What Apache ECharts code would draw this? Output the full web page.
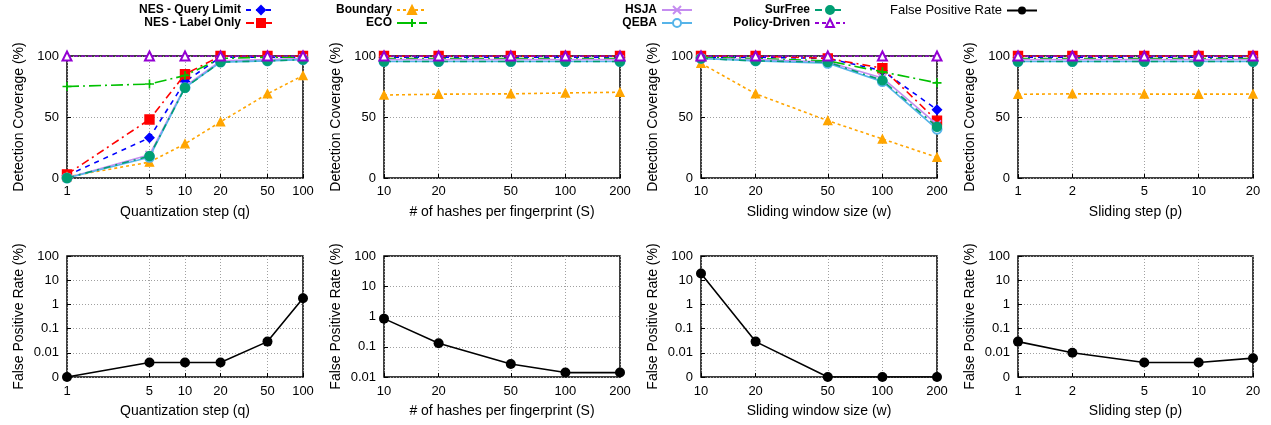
<!DOCTYPE html>
<html>
<head>
<meta charset="utf-8">
<script src="https://cdn.jsdelivr.net/npm/echarts@6/dist/echarts.min.js"></script>
<style>
  html, body { margin: 0; padding: 0; background: #fff; }
  #chart { width: 1271px; height: 425px; }
</style>
</head>
<body>
<div id="chart"></div>
<script>
// x values of the four parameter sweeps
const qSteps = [1, 5, 10, 20, 50, 100];
const hashCounts = [10, 20, 50, 100, 200];
const windowSizes = [10, 20, 50, 100, 200];
const slideSteps = [1, 2, 5, 10, 20];

// detection coverage (%) - quantization step
const qNesQuery = [2, 33, 79, 99, 99, 99];
const qNesLabel = [3, 48, 85, 100, 100, 100];
const qBoundary = [1, 13, 28, 46, 69, 84];
const qEco = [75, 77, 84, 98, 99, 99];
const qHsja = [0, 19, 75, 96, 97, 98];
const qQeba = [0, 17, 74, 95, 96, 97];
const qSurfree = [0, 18, 74, 95, 96, 97];
const qPolicy = [100, 100, 100, 100, 100, 100];

// detection coverage (%) - hashes per fingerprint
const sNesQuery = [99, 99, 99, 99, 99];
const sNesLabel = [100, 100, 100, 100, 100];
const sBoundary = [68, 68.7, 69, 69.7, 70.3];
const sEco = [98, 98, 98, 98, 98];
const sHsja = [97, 97, 97, 97, 97];
const sQeba = [95.5, 95.5, 95.5, 95.5, 95.5];
const sSurfree = [95.5, 95.5, 95.5, 95.5, 95.5];
const sPolicy = [100, 100, 100, 100, 100];

// detection coverage (%) - sliding window size
const wNesQuery = [99, 99, 98, 88, 56];
const wNesLabel = [100, 100, 98, 90, 47];
const wBoundary = [94, 69, 47, 32, 17];
const wEco = [99, 98, 96, 87, 78];
const wHsja = [98, 97, 95, 82, 44];
const wQeba = [98, 96, 94, 79, 40];
const wSurfree = [98, 96, 95, 80, 42];
const wPolicy = [100, 100, 100, 100, 100];

// detection coverage (%) - sliding step
const pNesQuery = [99, 99, 99, 99, 99];
const pNesLabel = [100, 100, 100, 100, 100];
const pBoundary = [68.6, 69, 68.8, 68.7, 68.8];
const pEco = [98, 98, 98, 98, 98];
const pHsja = [97, 97, 97, 97, 97];
const pQeba = [95.5, 95.5, 95.5, 95.5, 95.5];
const pSurfree = [95.5, 95.5, 95.5, 95.5, 95.5];
const pPolicy = [100, 100, 100, 100, 100];

// false positive rate (%), 0 is drawn on the axis floor
const qFpr = [0, 0.004, 0.004, 0.004, 0.029, 1.8];
const sFpr = [0.85, 0.13, 0.027, 0.014, 0.014];
const wFpr = [19, 0.029, 0, 0, 0];
const pFpr = [0.029, 0.01, 0.004, 0.004, 0.006];

const coverageTicks = [0, 50, 100];
const fprTicks = [0.001, 0.01, 0.1, 1, 10, 100];
const fprTicksShort = [0.01, 0.1, 1, 10, 100];

const FONT = 'Liberation Sans';
const xPath = 'path://M0,0L10,10M10,0L0,10';
const plusPath = 'path://M5,0L5,10M0,5L10,5';

const methods = [
  { name: 'NES - Query Limit', color: '#0000ff', symbol: 'diamond', size: 9, dash: [5, 5], lr: 994, lt: 4 },
  { name: 'NES - Label Only', color: '#ff0000', symbol: 'rect', size: 9, dash: [8, 4, 2, 4], lr: 994, lt: 17 },
  { name: 'Boundary', color: '#ffa500', symbol: 'triangle', size: 8, dash: [3, 3], lr: 843, lt: 4 },
  { name: 'ECO', color: '#00c000', symbol: plusPath, size: 9, dash: [12, 4, 2, 4], stroke: true, lr: 843, lt: 17 },
  { name: 'HSJA', color: '#c58cf0', symbol: xPath, size: 8, dash: 'solid', stroke: true, lr: 578, lt: 4 },
  { name: 'QEBA', color: '#56b4e9', symbol: 'emptyCircle', size: 9, dash: 'solid', lr: 578, lt: 17 },
  { name: 'SurFree', color: '#009e73', symbol: 'circle', size: 9, dash: [7, 5, 2, 5], lr: 425, lt: 4 },
  { name: 'Policy-Driven', color: '#9400d3', symbol: 'emptyTriangle', size: 9, dash: [4, 3], lr: 425, lt: 17 }
];

const topPanels = [
  { x: qSteps, ys: [qNesQuery, qNesLabel, qBoundary, qEco, qHsja, qQeba, qSurfree, qPolicy], xName: 'Quantization step (q)' },
  { x: hashCounts, ys: [sNesQuery, sNesLabel, sBoundary, sEco, sHsja, sQeba, sSurfree, sPolicy], xName: '# of hashes per fingerprint (S)' },
  { x: windowSizes, ys: [wNesQuery, wNesLabel, wBoundary, wEco, wHsja, wQeba, wSurfree, wPolicy], xName: 'Sliding window size (w)' },
  { x: slideSteps, ys: [pNesQuery, pNesLabel, pBoundary, pEco, pHsja, pQeba, pSurfree, pPolicy], xName: 'Sliding step (p)' }
];
const bottomPanels = [
  { x: qSteps, y: qFpr, ticks: fprTicks, xName: 'Quantization step (q)' },
  { x: hashCounts, y: sFpr, ticks: fprTicksShort, xName: '# of hashes per fingerprint (S)' },
  { x: windowSizes, y: wFpr, ticks: fprTicks, xName: 'Sliding window size (w)' },
  { x: slideSteps, y: pFpr, ticks: fprTicks, xName: 'Sliding step (p)' }
];

const lefts = [67, 384, 701, 1018];
const widths = [236, 236, 236, 235];

const grid = [], xAxis = [], yAxis = [], series = [], legend = [];
const gridLine = { show: true, lineStyle: { color: '#a0a0a0', type: [1, 2], width: 1 } };
const labelStyle = { fontFamily: FONT, fontSize: 13, color: '#000' };
const nameStyle = { fontFamily: FONT, fontSize: 14, color: '#000' };

function addX(idx, vals, name, margin, gap) {
  xAxis.push({
    type: 'log', logBase: 10, gridIndex: idx,
    min: vals[0], max: vals[vals.length - 1],
    name: name, nameLocation: 'middle', nameGap: gap, nameTextStyle: nameStyle,
    axisLine: { show: false },
    axisTick: { show: true, inside: true, length: 4, customValues: vals, lineStyle: { color: '#000' } },
    axisLabel: Object.assign({ customValues: vals, margin: margin, formatter: v => String(v) }, labelStyle),
    splitLine: gridLine
  });
}

topPanels.forEach((p, i) => {
  grid.push({ left: lefts[i], width: widths[i], top: 56, height: 122, show: true, borderColor: '#000', borderWidth: 1.5 });
  addX(i, p.x, p.xName, 7, 27);
  yAxis.push({
    type: 'value', gridIndex: i, min: 0, max: 100,
    name: 'Detection Coverage (%)', nameLocation: 'middle', nameGap: 41, nameTextStyle: nameStyle,
    axisLine: { show: false },
    axisTick: { show: true, inside: true, length: 4, customValues: coverageTicks, lineStyle: { color: '#000' } },
    axisLabel: Object.assign({ customValues: coverageTicks, margin: 8 }, labelStyle),
    splitLine: gridLine
  });
  methods.forEach((m, k) => {
    series.push({
      name: m.name, type: 'line', xAxisIndex: i, yAxisIndex: i,
      data: p.x.map((xv, j) => [xv, p.ys[k][j]]),
      symbol: m.symbol, symbolSize: m.size, showAllSymbol: true,
      lineStyle: { color: m.color, width: 1.6, type: m.dash },
      itemStyle: m.stroke
        ? { color: m.color, borderColor: m.color, borderWidth: 1.6 }
        : { color: m.color, borderColor: m.color, borderWidth: 1.4 },
      emphasis: { disabled: true }, animation: false, z: 2 + k
    });
  });
});

bottomPanels.forEach((p, i) => {
  const gi = i + 4;
  const floor = p.ticks[0];
  grid.push({ left: lefts[i], width: widths[i], top: 256, height: 121, show: true, borderColor: '#000', borderWidth: 1.5 });
  addX(gi, p.x, p.xName, 8, 27);
  yAxis.push({
    type: 'log', logBase: 10, gridIndex: gi, min: floor, max: 100,
    name: 'False Positive Rate (%)', nameLocation: 'middle', nameGap: 41, nameTextStyle: nameStyle,
    axisLine: { show: false },
    axisTick: { show: true, inside: true, length: 4, customValues: p.ticks, lineStyle: { color: '#000' } },
    axisLabel: Object.assign({ customValues: p.ticks, margin: 8, formatter: v => (v <= 0.001 ? '0' : String(v)) }, labelStyle),
    splitLine: gridLine
  });
  series.push({
    name: 'False Positive Rate', type: 'line', xAxisIndex: gi, yAxisIndex: gi,
    data: p.x.map((xv, j) => [xv, p.y[j] > 0 ? p.y[j] : floor]),
    symbol: 'circle', symbolSize: 10, showAllSymbol: true,
    lineStyle: { color: '#000', width: 1.6 },
    itemStyle: { color: '#000' },
    emphasis: { disabled: true }, animation: false
  });
});

methods.forEach(m => {
  legend.push({
    data: [m.name], right: m.lr, top: m.lt, align: 'right', padding: 0,
    itemWidth: 30, itemHeight: 10, selectedMode: false,
    textStyle: { fontFamily: FONT, fontSize: 12, fontWeight: 'bold', color: '#000' }
  });
});
legend.push({
  data: ['False Positive Rate'], right: 233, top: 4, align: 'right', padding: 0,
  itemWidth: 30, itemHeight: 10, selectedMode: false,
  textStyle: { fontFamily: FONT, fontSize: 13, color: '#000' }
});

const chart = echarts.init(document.getElementById('chart'), null, { renderer: 'canvas' });
chart.setOption({
  backgroundColor: '#fff',
  animation: false,
  legend: legend,
  grid: grid,
  xAxis: xAxis,
  yAxis: yAxis,
  series: series
});
</script>
</body>
</html>
